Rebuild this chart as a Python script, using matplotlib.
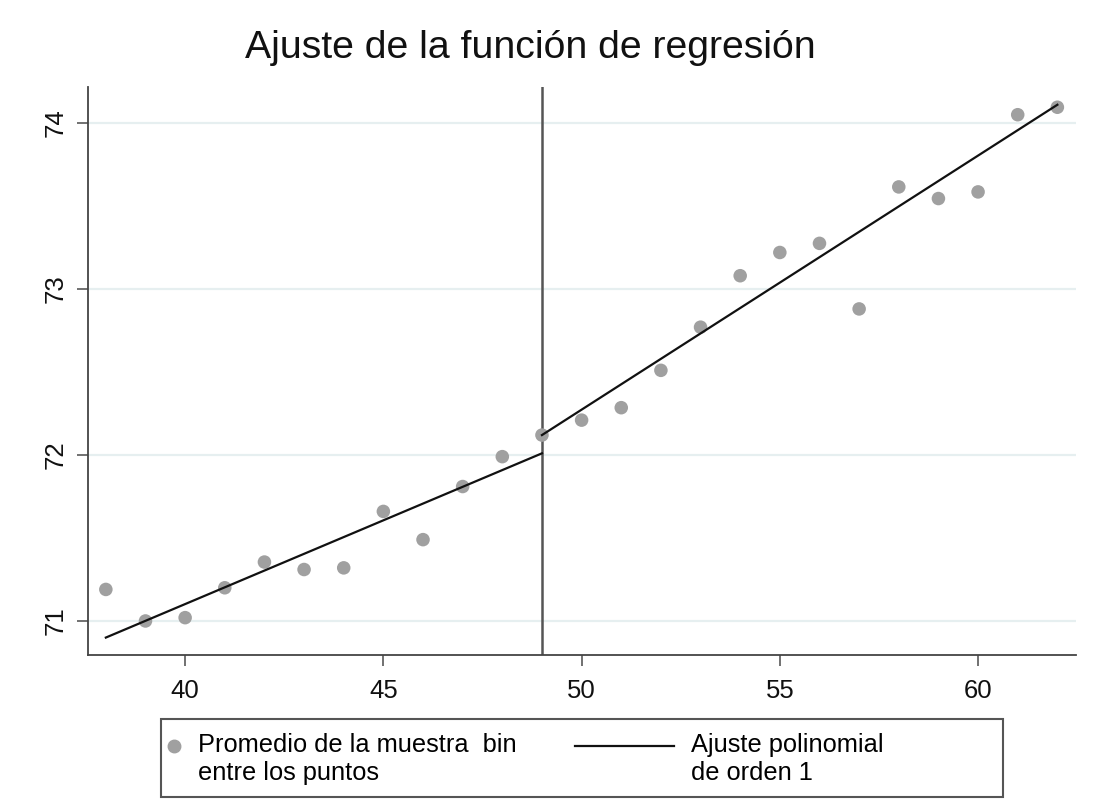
import matplotlib
matplotlib.use('Agg')
import matplotlib.pyplot as plt
from matplotlib.legend_handler import HandlerLine2D
from matplotlib.lines import Line2D
from matplotlib.patches import Rectangle

plt.rcParams['font.family'] = ['Liberation Sans', 'DejaVu Sans']

# bin means
bins = list(range(38, 63))
bin_means = [71.19, 71.00, 71.02, 71.20, 71.355, 71.31, 71.32, 71.66, 71.49, 71.81,
             71.99, 72.12, 72.21, 72.285, 72.51, 72.77, 73.08, 73.22, 73.275, 72.88,
             73.615, 73.545, 73.585, 74.05, 74.095]

# fitted lines (order 1) on each side of the cutoff
cutoff = 49
left_fit_x = [38, 49]
left_fit_y = [70.90, 72.01]
right_fit_x = [49, 62]
right_fit_y = [72.12, 74.11]

xticks = [40, 45, 50, 55, 60]
yticks = [71, 72, 73, 74]

title = "Ajuste de la función de regresión"
label_points = "Promedio de la muestra  bin\nentre los puntos"
label_fit = "Ajuste polinomial\nde orden 1"


class RaisedHandler(HandlerLine2D):
    # legend key lined up with the first text line; optional long line to the left
    def __init__(self, lift, span=None, **kw):
        super().__init__(**kw)
        self.lift = lift
        self.span = span

    def create_artists(self, legend, orig_handle, xdescent, ydescent,
                       width, height, fontsize, trans):
        arts = super().create_artists(legend, orig_handle, xdescent, ydescent,
                                      width, height, fontsize, trans)
        for a in arts:
            xs = list(a.get_xdata())
            ys = [y + self.lift * fontsize for y in a.get_ydata()]
            if self.span and a is arts[0]:
                x1 = -xdescent + width
                xs = [x1 - self.span * fontsize, x1]
                ys = [ys[0], ys[0]]
            a.set_data(xs, ys)
        return arts


fig = plt.figure(figsize=(10.93, 7.99), dpi=100)
ax = fig.add_axes([88 / 1093, 1 - 655 / 799, (1076 - 88) / 1093, (655 - 87) / 799])

ax.scatter(bins, bin_means, s=95, color='#a0a0a0', edgecolors='none', zorder=3)
fit, = ax.plot(left_fit_x, left_fit_y, color='#111111', lw=1.6, zorder=4)
ax.plot(right_fit_x, right_fit_y, color='#111111', lw=1.6, zorder=4)
ax.axvline(cutoff, color='#555555', lw=1.8, zorder=2)

ax.set_xlim(37.55, 62.47)
ax.set_ylim(70.795, 74.217)
ax.set_xticks(xticks)
ax.set_yticks(yticks)
ax.grid(axis='y', color='#e6eff0', lw=1.6, zorder=0)
ax.set_axisbelow(True)

for side in ['top', 'right']:
    ax.spines[side].set_visible(False)
for side in ['left', 'bottom']:
    ax.spines[side].set_color('#444444')
    ax.spines[side].set_linewidth(1.3)

ax.tick_params(axis='both', length=8, width=1.3, color='#666666', labelsize=18.5,
               labelcolor='#111111')
ax.tick_params(axis='x', pad=9)
ax.tick_params(axis='y', pad=7)
for lab in ax.get_yticklabels():
    lab.set_rotation(90)
    lab.set_va('center')

fig.text(530 / 1093, 1 - 58 / 799, title, fontsize=28.3, ha='center', va='baseline',
         color='#111111')

leg_kw = dict(loc='upper left', frameon=False, fontsize=18.3, handlelength=0.6,
              handletextpad=0.65, borderpad=0, borderaxespad=0, labelspacing=0)
pts_handle = Line2D([], [], marker='o', ls='none', color='#a0a0a0', markersize=9)
leg1 = fig.legend([pts_handle], [label_points],
                  bbox_to_anchor=(166 / 1093, 1 - 733 / 799),
                  handler_map={pts_handle: RaisedHandler(0.55)}, **leg_kw)
leg2 = fig.legend([fit], [label_fit], bbox_to_anchor=(659 / 1093, 1 - 733 / 799),
                  handler_map={fit: RaisedHandler(0.55, span=3.9)}, **leg_kw)
for leg in (leg1, leg2):
    for t in leg.get_texts():
        t.set_linespacing(1.22)
fig.add_artist(Rectangle((161 / 1093, 1 - 797 / 799), 842 / 1093, 78 / 799,
                         transform=fig.transFigure, fill=False, ec='#555555', lw=1.5))

fig.savefig('out.png', dpi=100)
